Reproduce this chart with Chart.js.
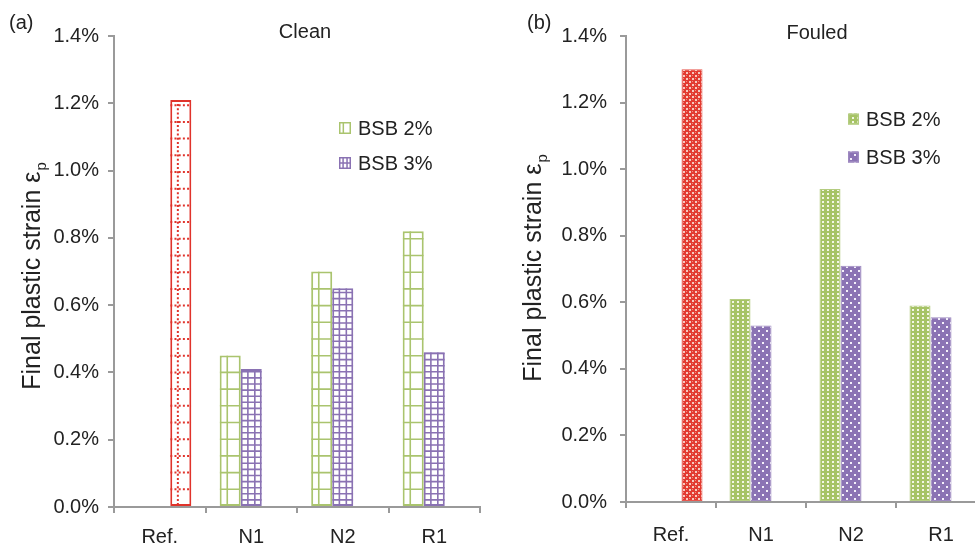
<!DOCTYPE html>
<html>
<head>
<meta charset="utf-8">
<script src="https://cdn.jsdelivr.net/npm/chart.js@4.4.0/dist/chart.umd.min.js"></script>
<style>
  html, body { margin: 0; padding: 0; background: #fff; overflow: hidden; }
  #wrap { position: relative; width: 975px; height: 545px; overflow: hidden; }
  #clean { position: absolute; left: 0; top: 0; }
  #fouled { position: absolute; left: 500px; top: 0; }
</style>
</head>
<body>
<div id="wrap">
  <canvas id="clean" width="495" height="545"></canvas>
  <canvas id="fouled" width="500" height="545"></canvas>
</div>
<script>
// values in percent
const categories = ["Ref.", "N1", "N2", "R1"];
const cleanRef = [1.21, null, null, null];
const cleanBsb2 = [null, 0.45, 0.70, 0.82];
const cleanBsb3 = [null, 0.41, 0.65, 0.46];
const fouledRef = [1.30, null, null, null];
const fouledBsb2 = [null, 0.61, 0.94, 0.59];
const fouledBsb3 = [null, 0.53, 0.71, 0.555];
const seriesLabels = ["BSB 2%", "BSB 3%", "Ref."];

const FONT = '"Liberation Sans", Arial, Helvetica, sans-serif';
const RED = "#e0332b";
const GREEN = "#aac46e";
const PURPLE = "#8a72b3";

// small canvas tiles for the filled "Fouled" bars
function makePattern(w, h, bg, fg, dots) {
  const c = document.createElement("canvas");
  c.width = w;
  c.height = h;
  const g = c.getContext("2d");
  g.fillStyle = bg;
  g.fillRect(0, 0, w, h);
  g.fillStyle = fg;
  dots.forEach((d) => g.fillRect(d[0], d[1], d[2], d[3]));
  return g.createPattern(c, "repeat");
}

const tmp = document.createElement("canvas").getContext("2d");
const redFill = (function () {
  const c = document.createElement("canvas");
  c.width = 6; c.height = 6;
  const g = c.getContext("2d");
  g.fillStyle = "#e23a30"; g.fillRect(0, 0, 6, 6);
  g.fillStyle = "#f6c9c0";
  g.fillRect(0, 0, 2, 2); g.fillRect(3, 3, 2, 2);
  g.fillStyle = "#ee8a80";
  g.fillRect(3, 0, 1, 1); g.fillRect(0, 3, 1, 1);
  return tmp.createPattern(c, "repeat");
})();
const greenFill = makePattern(5, 4, "#a6c365", "#f3f6e6", [[2, 1, 2, 2]]);
const purpleFill = makePattern(8, 8, "#8b73b4", "#f4f0fa", [[2, 2, 2, 2], [6, 6, 2, 2]]);

function drawHatch(ctx, left, top, w, h, hatch, color) {
  ctx.save();
  ctx.beginPath();
  ctx.rect(left, top, w, h);
  ctx.clip();
  ctx.strokeStyle = color;
  ctx.lineWidth = hatch.lineWidth;
  ctx.setLineDash(hatch.dash || []);
  ctx.beginPath();
  hatch.cols.forEach((f) => {
    const x = left + f * w;
    ctx.moveTo(x, top);
    ctx.lineTo(x, top + h);
  });
  for (let yy = top + h - hatch.step; yy > top + 1; yy -= hatch.step) {
    ctx.moveTo(left, yy);
    ctx.lineTo(left + w, yy);
  }
  ctx.stroke();
  ctx.restore();
}

// grid lines inside the outline bars of the "Clean" panel
const hatchPlugin = {
  id: "hatch",
  afterDatasetsDraw(chart) {
    const ctx = chart.ctx;
    chart.data.datasets.forEach((ds, i) => {
      if (!ds.hatch) return;
      const meta = chart.getDatasetMeta(i);
      meta.data.forEach((bar, j) => {
        if (ds.data[j] == null) return;
        const p = bar.getProps(["x", "y", "base", "width"], true);
        drawHatch(ctx, p.x - p.width / 2, p.y, p.width, p.base - p.y, ds.hatch, ds.borderColor);
      });
    });
  },
};

// panel tag, title, y title with subscript and the legend box
const decorPlugin = {
  id: "decor",
  afterDraw(chart, args, o) {
    const ctx = chart.ctx;
    ctx.save();
    ctx.fillStyle = "#222";
    ctx.textBaseline = "middle";
    ctx.font = "20px " + FONT;
    ctx.textAlign = "left";
    ctx.fillText(o.tag, o.tagX, o.tagY);
    ctx.textAlign = "center";
    ctx.fillText(o.title, o.titleX, o.titleY);

    // legend
    ctx.textAlign = "left";
    let ly = o.legendY;
    chart.data.datasets.forEach((ds) => {
      if (ds.inLegend === false) return;
      const b = o.box;
      const top = ly - b / 2;
      ctx.fillStyle = ds.backgroundColor;
      ctx.fillRect(o.legendX, top, b, b);
      ctx.strokeStyle = ds.borderColor;
      ctx.lineWidth = 1.5;
      ctx.strokeRect(o.legendX + 0.75, top + 0.75, b - 1.5, b - 1.5);
      if (ds.hatch) {
        drawHatch(ctx, o.legendX, top, b, b, { cols: ds.hatch.cols, step: ds.hatch.step, lineWidth: 1.5 }, ds.borderColor);
      }
      ctx.fillStyle = "#222";
      ctx.font = "20px " + FONT;
      ctx.fillText(ds.label, o.legendX + b + 7, ly + 1);
      ly += o.legendGap;
    });

    // rotated axis title
    ctx.translate(o.yTitleX, o.yTitleY);
    ctx.rotate(-Math.PI / 2);
    const big = o.yFont + "px " + FONT;
    const small = Math.round(o.yFont * 0.6) + "px " + FONT;
    const main = "Final plastic strain \u03b5";
    ctx.font = big;
    const wMain = ctx.measureText(main).width;
    ctx.font = small;
    const wSub = ctx.measureText("p").width;
    const start = -(wMain + wSub + 1) / 2;
    ctx.fillStyle = "#222";
    ctx.font = big;
    ctx.fillText(main, start, 0);
    ctx.font = small;
    ctx.fillText("p", start + wMain + 1, o.yFont * 0.35);
    ctx.restore();
  },
};

function makeOptions(cfg) {
  return {
    responsive: false,
    animation: false,
    layout: { padding: { top: 36, right: cfg.padRight, left: 0, bottom: 0 } },
    plugins: {
      legend: { display: false },
      tooltip: { enabled: false },
      decor: cfg.decor,
    },
    scales: {
      x: {
        ticks: { padding: cfg.xPad, color: "#222", font: { size: 20, family: FONT } },
        grid: { offset: true, drawOnChartArea: false, drawTicks: true, tickLength: 6, color: "#9a9a9a", lineWidth: 2 },
        border: { color: "#9a9a9a", width: 2 },
        afterFit: (s) => { s.height = cfg.xHeight; },
      },
      y: {
        min: 0,
        max: 1.4,
        ticks: {
          stepSize: 0.2,
          padding: cfg.yPad,
          color: "#222",
          font: { size: 20, family: FONT },
          callback: (v) => v.toFixed(1) + "%",
        },
        grid: { drawOnChartArea: false, drawTicks: true, tickLength: 6, color: "#9a9a9a", lineWidth: 2 },
        border: { color: "#9a9a9a", width: 2 },
        afterFit: (s) => { s.width = cfg.yWidth; },
      },
    },
  };
}

new Chart(document.getElementById("clean"), {
  type: "bar",
  data: {
    labels: categories,
    datasets: [
      {
        label: seriesLabels[0], data: cleanBsb2,
        backgroundColor: "#ffffff", borderColor: GREEN, borderWidth: 2, borderSkipped: false,
        categoryPercentage: 0.69, barPercentage: 1.0,
        hatch: { cols: [0.36], step: 16.7, lineWidth: 1.6 },
      },
      {
        label: seriesLabels[1], data: cleanBsb3,
        backgroundColor: "#ffffff", borderColor: PURPLE, borderWidth: 2, borderSkipped: false,
        categoryPercentage: 0.69, barPercentage: 1.0,
        hatch: { cols: [0.34, 0.67], step: 6.1, lineWidth: 1.6 },
      },
      {
        label: seriesLabels[2], data: cleanRef, inLegend: false,
        backgroundColor: "#ffffff", borderColor: RED, borderWidth: 2, borderSkipped: false,
        categoryPercentage: 0.69, barPercentage: 1.0,
        hatch: { cols: [0.36], step: 16.7, lineWidth: 2, dash: [2, 2.2] },
      },
    ],
  },
  options: makeOptions({
    padRight: 15, xHeight: 38, yWidth: 114, yPad: 9, xPad: 12,
    decor: {
      tag: "(a)", tagX: 9, tagY: 23,
      title: "Clean", titleX: 305, titleY: 32,
      legendX: 339, legendY: 128, legendGap: 35, box: 12,
      yTitleX: 33, yTitleY: 276, yFont: 25,
    },
  }),
  plugins: [hatchPlugin, decorPlugin],
});

new Chart(document.getElementById("fouled"), {
  type: "bar",
  data: {
    labels: categories,
    datasets: [
      {
        label: seriesLabels[0], data: fouledBsb2,
        backgroundColor: greenFill, borderColor: "#b4cc80", borderWidth: 1, borderSkipped: false,
        categoryPercentage: 0.7, barPercentage: 1.0,
      },
      {
        label: seriesLabels[1], data: fouledBsb3,
        backgroundColor: purpleFill, borderColor: "#9d88c0", borderWidth: 1, borderSkipped: false,
        categoryPercentage: 0.7, barPercentage: 1.0,
      },
      {
        label: seriesLabels[2], data: fouledRef, inLegend: false,
        backgroundColor: redFill, borderColor: "#e8574e", borderWidth: 1, borderSkipped: false,
        categoryPercentage: 0.7, barPercentage: 1.0,
      },
    ],
  },
  options: makeOptions({
    padRight: 14, xHeight: 43, yWidth: 126, yPad: 13, xPad: 15,
    decor: {
      tag: "(b)", tagX: 27, tagY: 23,
      title: "Fouled", titleX: 317, titleY: 33,
      legendX: 348, legendY: 119, legendGap: 38, box: 11,
      yTitleX: 34, yTitleY: 268, yFont: 25,
    },
  }),
  plugins: [decorPlugin],
});
</script>
</body>
</html>
